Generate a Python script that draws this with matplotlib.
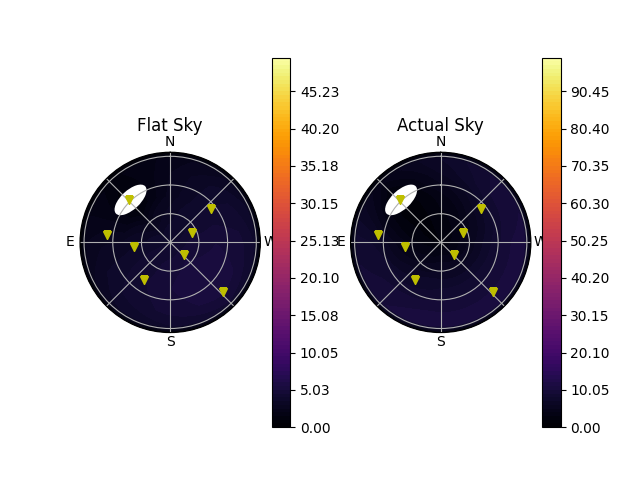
import numpy as np
import matplotlib
matplotlib.use('Agg')
import matplotlib.pyplot as plt
from matplotlib.patches import Ellipse
from matplotlib.transforms import ScaledTranslation

# 天空网格 (方位角 度, 天顶角 弧度)
grid_az = [0, 45, 90, 135, 180, 225, 270, 315, 360]
grid_zen = [0.0, 0.4, 0.8, 1.2, 1.45, np.pi / 2]

flat_sky = [
    [4.0, 4.0, 4.0, 4.0, 4.0, 4.0, 4.0, 4.0, 4.0],
    [3.4, 2.6, 3.6, 4.3, 4.7, 5.0, 4.7, 4.0, 3.4],
    [2.7, 0.8, 3.1, 4.3, 5.0, 5.5, 5.0, 4.0, 2.7],
    [2.5, 0.8, 2.9, 4.0, 4.7, 5.3, 4.7, 3.8, 2.5],
    [2.2, 1.3, 2.5, 3.4, 4.0, 4.5, 4.0, 3.1, 2.2],
    [0.4, 0.4, 0.4, 0.4, 0.4, 0.4, 0.4, 0.4, 0.4],
]
actual_sky = [
    [2.0, 2.0, 2.0, 2.0, 2.0, 2.0, 2.0, 2.0, 2.0],
    [2.5, 1.5, 3.0, 4.5, 5.5, 5.0, 4.5, 3.5, 2.5],
    [3.5, 1.0, 5.0, 7.0, 8.0, 8.0, 7.5, 6.0, 3.5],
    [6.0, 2.0, 8.0, 9.5, 10.0, 10.0, 10.0, 9.0, 6.0],
    [7.0, 4.0, 8.5, 10.0, 10.5, 10.5, 10.5, 9.5, 7.0],
    [1.0, 1.0, 1.0, 1.0, 1.0, 1.0, 1.0, 1.0, 1.0],
]
flat_max = 49.75
actual_max = 99.5

# 卫星位置
sat_az = [43.9, 83.4, 97.0, 145.4, 226.3, 292.0, 309.3, 226.6]
sat_zen = [58.7, 63.1, 36.0, 45.8, 18.4, 24.0, 52.1, 71.9]

# 太阳位置
sun_az = 43.0
sun_zen = 58.0

titles = ['Flat Sky', 'Actual Sky']
skies = [flat_sky, actual_sky]
maxes = [flat_max, actual_max]

fig, axs = plt.subplots(1, 2, subplot_kw=dict(projection='polar'))

T, R = np.meshgrid(np.radians(grid_az), grid_zen)

for ax, title, sky, vmax in zip(axs, titles, skies, maxes):
    levels = np.linspace(0, vmax, 100)
    cf = ax.contourf(T, R, np.array(sky), levels=levels, cmap='inferno')
    # 让轮廓沿圆弧绘制
    for p in cf.get_paths():
        p._interpolation_steps = 60

    # 太阳附近区域 (白色)
    tr = fig.dpi_scale_trans + ScaledTranslation(np.radians(sun_az), np.radians(sun_zen), ax.transData)
    ax.add_patch(Ellipse((0, 0), 0.40, 0.19, angle=sun_az, facecolor='white',
                         edgecolor='none', transform=tr, zorder=1.2))

    ax.plot(np.radians(sat_az), np.radians(sat_zen), 'yv')

    ax.set_theta_zero_location('N')
    ax.set_thetagrids(range(0, 360, 45), ['N', '', 'E', '', 'S', '', 'W', ''])
    ax.tick_params(axis='x', pad=-3.5)
    ax.set_rlim(0, np.pi / 2)
    ax.set_yticklabels([])
    ax.grid(True)
    ax.set_title(title, y=1.0, pad=15)

    fig.colorbar(cf, ax=ax, ticks=levels[::10], format='%.2f')

plt.savefig('out.png')
